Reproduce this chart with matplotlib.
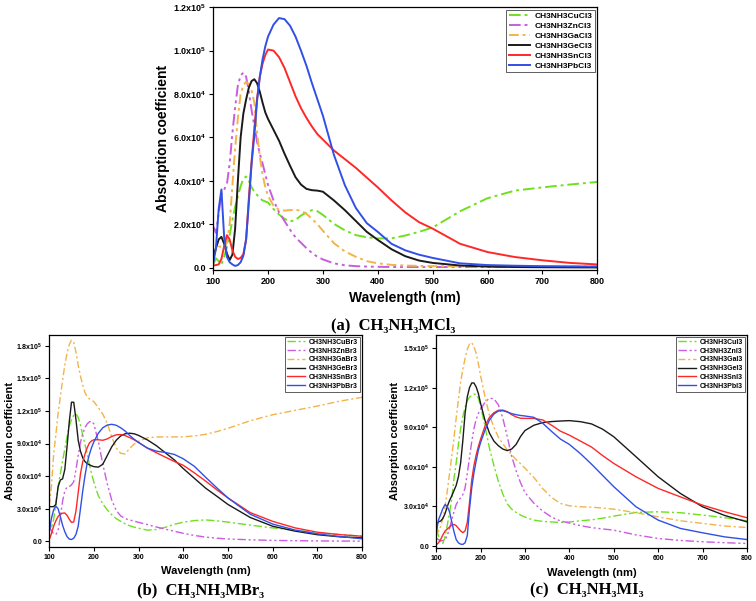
import matplotlib
matplotlib.use('Agg')
import matplotlib.pyplot as plt

plt.rcParams['font.family'] = ['Liberation Sans', 'DejaVu Sans']
plt.rcParams['font.weight'] = 'bold'
plt.rcParams['mathtext.fontset'] = 'custom'
plt.rcParams['mathtext.rm'] = 'Liberation Sans:bold'
plt.rcParams['mathtext.it'] = 'Liberation Sans:bold'
plt.rcParams['mathtext.bf'] = 'Liberation Sans:bold'
plt.rcParams['mathtext.default'] = 'rm'

# wavelength grid (nm), shared by all curves
wl = [100, 105, 110, 115, 120, 125, 130, 135, 140, 145, 150, 155, 160, 165, 170,
      175, 180, 185, 190, 195, 200, 210, 220, 230, 240, 250, 260, 270, 280, 290,
      300, 320, 340, 360, 380, 400, 425, 450, 475, 500, 550, 600, 650, 700, 750, 800]

# (a) CH3NH3MCl3
cl_cu = [1500, 4300, 3000, 1500, 5000, 9500, 15000, 22000, 28000, 33000, 37500, 41000, 42000, 40000, 37000,
         35000, 33500, 32000, 31000, 30500, 30000, 27000, 24500, 22500, 21300, 22000, 24000, 25500, 26500, 26000,
         24300, 20200, 17200, 15000, 14000, 13500, 13500, 14800, 16500, 18500, 26000, 32000, 35500, 37000, 38300, 39500]
cl_zn = [19000, 16000, 25000, 34000, 36000, 38500, 48000, 62000, 74000, 84000, 88500, 89900, 88000, 81000, 72500,
         65500, 58000, 52500, 48000, 43000, 38000, 31000, 25500, 21500, 17500, 14000, 11500, 9000, 6800, 5000,
         3800, 2000, 1100, 700, 500, 400, 300, 300, 300, 300, 300, 300, 300, 300, 300, 300]
cl_ga = [4000, 8500, 9700, 9700, 9800, 11500, 20000, 38000, 55000, 69000, 80000, 84000, 85700, 84500, 81500,
         76000, 62000, 51000, 43000, 37000, 33000, 28500, 26700, 26300, 26500, 26700, 26200, 24800, 22500, 20000,
         17000, 11300, 7500, 5000, 3000, 2000, 1300, 1000, 800, 700, 600, 600, 500, 500, 500, 500]
cl_ge = [4600, 9000, 13000, 14200, 11000, 6500, 3500, 6000, 18000, 40000, 60000, 71000, 77500, 83000, 86000,
         86800, 85000, 81000, 76000, 71500, 68500, 63500, 58500, 52500, 47000, 41700, 38300, 36300, 35700, 35500,
         35000, 31000, 26500, 21500, 16500, 12800, 8500, 5300, 3300, 2200, 1000, 500, 300, 200, 150, 100]
cl_sn = [1000, 1200, 1500, 4000, 10000, 15000, 13000, 8000, 5000, 4000, 4500, 6200, 13000, 32000, 49000,
         64000, 78000, 88000, 94000, 98000, 100500, 100000, 97000, 92000, 85500, 79000, 73500, 69000, 65000, 61500,
         59000, 54000, 50000, 46000, 41500, 37000, 31000, 25500, 21000, 18000, 11000, 7200, 4900, 3400, 2200, 1500]
cl_pb = [2000, 9000, 27000, 36000, 14000, 5000, 2500, 1500, 800, 1200, 2500, 5500, 13000, 30000, 48000,
         61000, 77000, 88000, 96000, 102000, 106500, 112000, 115000, 114500, 111500, 106500, 100000, 93000, 85000, 77500,
         70000, 52000, 38000, 27500, 20500, 16500, 11000, 8000, 6000, 4500, 2000, 1200, 900, 700, 600, 500]

# (b) CH3NH3MBr3
br_cu = [20000, 12000, 20000, 35000, 51000, 62000, 74000, 85000, 96000, 106000, 112000, 116000, 117500, 114000, 107000,
         98000, 89500, 80500, 71000, 62000, 54500, 42000, 34500, 29000, 24500, 21000, 18500, 16300, 14500, 13200,
         12200, 10400, 11000, 13000, 15800, 17700, 19200, 19800, 19000, 17800, 15000, 12500, 10300, 8000, 6300, 4900]
br_zn = [14000, 10000, 7000, 6500, 10000, 22000, 37000, 46500, 50000, 50500, 52000, 55000, 66000, 79000, 91000,
         99000, 104500, 108000, 110000, 110500, 108000, 92000, 71000, 53000, 38000, 28500, 23500, 21000, 19800, 18700,
         17600, 15500, 13300, 11300, 9400, 7500, 5500, 4000, 3000, 2300, 1500, 1000, 700, 500, 400, 300]
br_ga = [33000, 50000, 80000, 98000, 118000, 133000, 148000, 162000, 173000, 181000, 185000, 183000, 174000, 162000, 152000,
         144000, 137000, 133000, 131000, 130000, 128500, 123000, 117000, 108500, 96000, 86000, 81000, 80500, 85500, 89500,
         92000, 95300, 96000, 96100, 96100, 96200, 97000, 98500, 101000, 104000, 111000, 116500, 120500, 124500, 129000, 132500]
br_ge = [32000, 32000, 32000, 34000, 50000, 56500, 57500, 66000, 87000, 110000, 128000, 128000, 112000, 93000, 83000,
         77000, 73500, 71500, 70500, 69500, 68800, 68300, 71000, 79000, 87000, 93000, 97000, 99000, 99500, 99000,
         97500, 93300, 88000, 81500, 75000, 67000, 58000, 49000, 41600, 34000, 22000, 14000, 9500, 6200, 4300, 3300]
br_sn = [1500, 7000, 14000, 19000, 23000, 25000, 26000, 26200, 24000, 20500, 17500, 18000, 28000, 45000, 62000,
         73000, 80000, 86000, 90500, 92500, 93500, 93500, 93000, 94300, 96500, 98000, 98300, 97300, 95500, 93500,
         91000, 85700, 81500, 77500, 73500, 70000, 63000, 55500, 47500, 40000, 26500, 18500, 12500, 8500, 6300, 4800]
br_pb = [8000, 21000, 29000, 32500, 30000, 23000, 15000, 9000, 4500, 2200, 1800, 3000, 6500, 14000, 30000,
         46000, 60000, 72000, 80000, 86500, 91500, 99500, 104500, 107000, 107700, 106800, 104500, 101500, 97500, 94000,
         91000, 85800, 83000, 81800, 80000, 76000, 69000, 59000, 49300, 40000, 25000, 16000, 10500, 7000, 4500, 2500]

# (c) CH3NH3MI3
i_cu = [13000, 8000, 3000, 2000, 7000, 16000, 25000, 36000, 51000, 63000, 77000, 89000, 98000, 105000, 110000,
        112800, 114000, 115000, 114800, 112000, 106000, 90500, 74000, 61000, 49000, 39500, 32000, 28000, 25500, 23500,
        22000, 19700, 18700, 18300, 17900, 18300, 19200, 19900, 21200, 22700, 25500, 26000, 25300, 23500, 21500, 19200]
i_zn = [6000, 5000, 4000, 4200, 5000, 8000, 13500, 20000, 26000, 31500, 34500, 36500, 39000, 44000, 55000,
        67000, 79000, 89000, 96000, 100500, 103500, 109000, 112000, 111500, 107000, 97000, 83000, 68000, 57000, 48000,
        40500, 32500, 26500, 22000, 19000, 17500, 15500, 14000, 13000, 12100, 8500, 5800, 4300, 3300, 2600, 2000]
i_ga = [15000, 11000, 15000, 21000, 30000, 42000, 55000, 68000, 82000, 97000, 111000, 124000, 134000, 142000, 149000,
        153000, 154000, 151000, 146000, 138000, 129000, 113000, 99000, 90000, 82500, 77500, 73000, 69200, 65500, 62400,
        59000, 52000, 43500, 36800, 32300, 30500, 29800, 29500, 28800, 28000, 25300, 22200, 19200, 17200, 15200, 14100]
i_ge = [16000, 18400, 19000, 21000, 24700, 30000, 34500, 38000, 42000, 46000, 52500, 63000, 80000, 100500, 113000,
        120000, 123500, 123500, 120500, 115500, 108000, 95000, 85500, 79500, 76000, 73500, 72300, 73500, 77000, 83000,
        87500, 91500, 93500, 94300, 94700, 95000, 94200, 92500, 88500, 82800, 67700, 52500, 39900, 29800, 23200, 18400]
i_sn = [1000, 2500, 5000, 8500, 11500, 13000, 14500, 16000, 16400, 15500, 13500, 11500, 10200, 11500, 18000,
        33000, 50000, 61000, 69000, 75500, 81000, 91000, 97500, 101000, 102800, 103000, 101800, 99500, 97800, 96800,
        96700, 96700, 95500, 91500, 87000, 84000, 79500, 75000, 68500, 62600, 52500, 43700, 37300, 31000, 26000, 21500]
i_pb = [10000, 19700, 24000, 28500, 31500, 30000, 26000, 18500, 11000, 5000, 2500, 1500, 1300, 2500, 8000,
        28000, 44000, 55500, 64500, 72700, 78500, 87900, 95500, 100000, 102300, 102500, 101500, 100300, 99500, 98900,
        98500, 97500, 93000, 86800, 81000, 77000, 70000, 62000, 53500, 45000, 29800, 19700, 13400, 10100, 7000, 5000]

metals = ['Cu', 'Zn', 'Ga', 'Ge', 'Sn', 'Pb']
colors = ['#6fe01e', '#c95ce0', '#f2b44a', '#1a1a1a', '#ff2828', '#3050e6']
styles = [(0, (6, 2, 1.5, 2)), (0, (6, 2, 1.5, 2, 1.5, 2)), (0, (5, 2, 1.5, 2)), '-', '-', '-']

xticks = [100, 200, 300, 400, 500, 600, 700, 800]
cl_yticks = [0, 2e4, 4e4, 6e4, 8e4, 1e5, 1.2e5]
cl_ylabels = ['0.0', '2.0x10$^4$', '4.0x10$^4$', '6.0x10$^4$', '8.0x10$^4$', '1.0x10$^5$', '1.2x10$^5$']
br_yticks = [0, 3e4, 6e4, 9e4, 1.2e5, 1.5e5, 1.8e5]
br_ylabels = ['0.0', '3.0x10$^4$', '6.0x10$^4$', '9.0x10$^4$', '1.2x10$^5$', '1.5x10$^5$', '1.8x10$^5$']
i_yticks = [0, 3e4, 6e4, 9e4, 1.2e5, 1.5e5]
i_ylabels = ['0.0', '3.0x10$^4$', '6.0x10$^4$', '9.0x10$^4$', '1.2x10$^5$', '1.5x10$^5$']


def draw(ax, series, halide, yticks, ylabels, ylim, tick_fs, label_fs, leg_fs, lw, ypad):
    for m, y, c, ls in zip(metals, series, colors, styles):
        ax.plot(wl, y, color=c, linestyle=ls, linewidth=lw, label='CH3NH3' + m + halide)
    ax.set_xlim(100, 800)
    ax.set_ylim(*ylim)
    ax.set_xticks(xticks)
    ax.set_xticklabels([str(t) for t in xticks], fontsize=tick_fs, fontweight='bold')
    ax.set_yticks(yticks)
    ax.set_yticklabels(ylabels, fontsize=tick_fs, fontweight='bold')
    ax.tick_params(direction='out', length=3, width=0.8, pad=2)
    for s in ax.spines.values():
        s.set_linewidth(0.9)
    ax.set_xlabel('Wavelength (nm)', fontsize=label_fs, fontweight='bold', labelpad=4)
    ax.set_ylabel('Absorption coefficient', fontsize=label_fs, fontweight='bold', labelpad=ypad)
    leg = ax.legend(loc='upper right', fontsize=leg_fs, fancybox=False, edgecolor='#444444',
                    handlelength=2.6, labelspacing=0.25, borderpad=0.3, borderaxespad=0.3,
                    handletextpad=0.5, framealpha=1)
    leg.get_frame().set_linewidth(0.6)
    for t in leg.get_texts():
        t.set_fontweight('bold')


fig = plt.figure(figsize=(7.56, 6.01), dpi=100)

ax_a = fig.add_axes([0.282, 0.551, 0.508, 0.437])
draw(ax_a, [cl_cu, cl_zn, cl_ga, cl_ge, cl_sn, cl_pb], 'Cl3', cl_yticks, cl_ylabels,
     (-1000, 1.2e5), 6.5, 10, 6.0, 1.4, 2)

ax_b = fig.add_axes([0.065, 0.090, 0.414, 0.353])
draw(ax_b, [br_cu, br_zn, br_ga, br_ge, br_sn, br_pb], 'Br3', br_yticks, br_ylabels,
     (-5000, 1.9e5), 5, 8, 5, 1.0, 1)

ax_c = fig.add_axes([0.577, 0.088, 0.411, 0.355])
draw(ax_c, [i_cu, i_zn, i_ga, i_ge, i_sn, i_pb], 'I3', i_yticks, i_ylabels,
     (-1500, 1.6e5), 5, 8, 5, 1.0, 2)

serif = ['Liberation Serif', 'DejaVu Serif']
fig.text(0.520, 1 - 325 / 601, '(a)  CH\u2083NH\u2083MCl\u2083', ha='center', va='center',
         fontsize=12, fontweight='bold', family=serif)
fig.text(201 / 756, 1 - 590 / 601, '(b)  CH\u2083NH\u2083MBr\u2083', ha='center', va='center',
         fontsize=12, fontweight='bold', family=serif)
fig.text(587 / 756, 1 - 590 / 601, '(c)  CH\u2083NH\u2083MI\u2083', ha='center', va='center',
         fontsize=12, fontweight='bold', family=serif)

fig.savefig('out.png', dpi=100)
